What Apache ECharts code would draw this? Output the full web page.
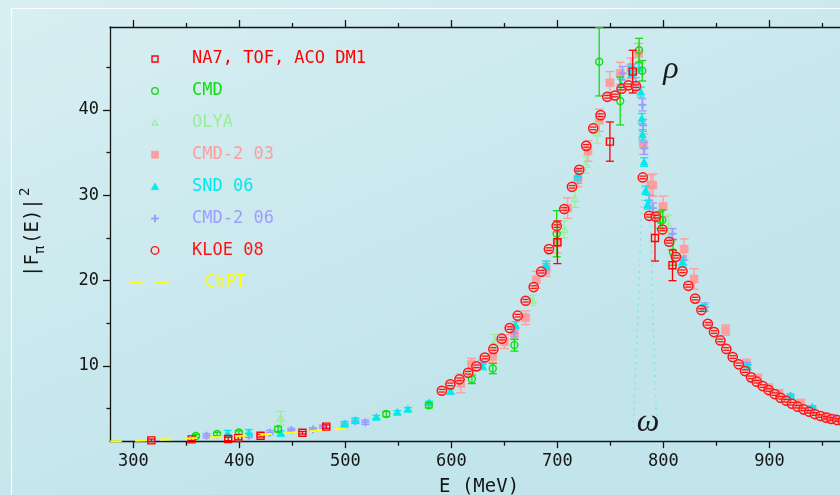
<!DOCTYPE html>
<html>
<head>
<meta charset="utf-8">
<script src="https://cdn.jsdelivr.net/npm/echarts@6/dist/echarts.min.js"></script>
<style>
  html, body { margin: 0; padding: 0; background: #cfeaef; }
  #chart { width: 840px; height: 495px; }
</style>
</head>
<body>
<div id="chart"></div>
<script>
// Pion form factor |F_pi(E)|^2 versus energy E (MeV).
// Each experiment: [E (MeV), |F|^2, error]
const na7 = [
  [317, 1.29, 0.15], [355, 1.40, 0.15], [389.5, 1.45, 0.2], [399, 1.55, 0.2],
  [420, 1.83, 0.15], [459.5, 2.18, 0.15], [482, 2.90, 0.2], [700, 24.5, 2.5],
  [749.5, 36.3, 2.3], [771, 44.5, 2.5], [792, 25.0, 2.7], [808.5, 21.8, 1.8]
];
const cmd = [
  [359, 1.80, 0.2], [379, 2.03, 0.2], [399.5, 2.20, 0.2], [436.5, 2.60, 0.3],
  [538.6, 4.37, 0.3], [578.7, 5.40, 0.3], [619.3, 8.44, 0.5], [639, 9.7, 0.6],
  [659.4, 12.45, 0.7], [699.3, 25.5, 2.7], [739.4, 45.65, 4.0], [759.2, 41.05, 2.8],
  [777, 47.0, 1.4], [780, 44.6, 1.2], [797, 27.1, 1.0], [799, 27.1, 1.2], [809, 23.3, 1.5]
];
const olya = [
  [439, 3.87, 0.8], [641, 12.9, 0.8], [676.6, 17.7, 0.6], [706.5, 26.0, 1.0],
  [716.5, 29.6, 1.0], [726.9, 33.6, 1.0], [737.3, 37.3, 1.2], [805, 26.5, 1.2]
];
const cmd2_03 = [
  [609, 7.97, 1.1], [619, 10.2, 0.7], [639, 11.1, 0.7], [650, 12.85, 0.8],
  [659.5, 13.9, 0.8], [670, 15.66, 0.8], [680, 20.1, 1.0], [689.5, 21.4, 0.9],
  [699.6, 24.45, 1.2], [709.6, 28.5, 1.2], [719.5, 32.0, 1.0], [728.8, 35.2, 1.2],
  [739.5, 38.8, 1.3], [749.5, 43.2, 1.3], [759.2, 44.3, 1.3], [769.3, 44.9, 1.2],
  [776.5, 46.6, 1.2], [781, 36.0, 1.2], [788, 31.2, 1.2], [790, 31.2, 1.3],
  [799.7, 28.7, 1.2], [819.5, 23.7, 1.2], [828.9, 20.2, 1.2], [858.7, 14.2, 0.6],
  [878.2, 10.2, 0.6], [889, 8.6, 0.4], [899.5, 7.4, 0.5], [909, 6.8, 0.4],
  [929.4, 5.6, 0.5], [940, 4.9, 0.4], [953, 4.05, 0.4], [960, 3.9, 0.4]
];
const snd06 = [
  [389, 2.10, 0.35], [409, 2.20, 0.35], [439, 2.10, 0.3], [499.3, 3.20, 0.3],
  [509.4, 3.60, 0.3], [529.2, 4.00, 0.2], [549, 4.57, 0.2], [559, 4.92, 0.2],
  [579, 5.70, 0.2], [599.2, 7.00, 0.25], [629.6, 9.90, 0.3], [660.4, 14.8, 0.4],
  [689.2, 21.8, 0.5], [719, 32.4, 0.6], [760, 43.0, 0.6], [770, 44.5, 0.6],
  [777, 44.9, 0.6], [778.7, 42.1, 0.6], [779.6, 39.0, 0.6], [780.2, 37.1, 0.6],
  [781.8, 33.9, 0.5], [783.3, 30.6, 0.5], [784.9, 28.9, 0.5], [818, 22.2, 0.5],
  [838.3, 16.8, 0.4], [879.1, 9.9, 0.3], [919.9, 6.4, 0.2], [940.3, 5.04, 0.2],
  [970, 3.6, 0.2]
];
const cmd2_06 = [
  [369, 1.83, 0.25], [409, 1.85, 0.25], [428.7, 2.20, 0.25], [449, 2.50, 0.2],
  [469.5, 2.58, 0.2], [479, 2.90, 0.2], [499.3, 3.20, 0.25], [509.4, 3.55, 0.25],
  [518.8, 3.40, 0.25], [628.6, 10.3, 0.4], [659.4, 13.9, 0.5], [689.2, 21.4, 0.6],
  [719.4, 32.1, 0.7], [761.4, 44.3, 0.8], [770, 44.6, 0.8], [774, 43.1, 0.7],
  [780.2, 40.6, 0.7], [780.8, 38.2, 0.7], [782, 35.5, 0.7], [786.5, 29.4, 0.6],
  [790, 28.5, 0.6], [808.5, 25.5, 0.6], [818.6, 22.4, 0.5], [839, 16.9, 0.5],
  [879.1, 10.1, 0.3], [919.9, 6.5, 0.25], [940.3, 5.15, 0.2], [962, 3.9, 0.2]
];
const kloe08 = [
  [591, 7.10], [599, 7.85], [607.6, 8.44], [615.8, 9.21], [623.6, 9.96], [631.5, 11.0],
  [639.6, 12.0], [647.5, 13.2], [655, 14.45], [662.5, 15.9], [670, 17.65], [677.6, 19.25],
  [684.8, 21.05], [692, 23.7], [699.3, 26.4], [706.5, 28.4], [713.7, 31.0], [720.6, 33.0],
  [727.2, 35.8], [733.8, 37.85], [740.7, 39.4], [747, 41.55], [754.2, 41.7], [760.5, 42.5],
  [767, 42.9], [774, 42.8], [780.5, 32.1], [786.5, 27.6], [792.8, 27.5], [799, 26.0],
  [805.4, 24.56], [811.7, 22.8], [817.9, 21.1], [823.5, 19.4], [829.9, 17.9], [835.8, 16.56],
  [841.8, 14.95], [847.7, 13.98], [853.7, 13.0], [859.3, 12.0], [865.3, 11.05], [871, 10.2],
  [876.9, 9.41], [882.6, 8.67], [887.9, 8.16], [893.6, 7.65], [899.2, 7.18], [904.9, 6.71],
  [910.5, 6.28], [915.8, 5.93], [921.2, 5.58], [926.5, 5.23], [932.2, 4.92], [937.5, 4.64],
  [942.8, 4.37], [948.2, 4.14], [953.5, 3.94], [958.5, 3.79], [963.8, 3.67], [969, 3.55]
];
const kloeErr = 0.15;
// Chiral perturbation theory curve at low energy
const chpt = [
  [278, 1.15], [300, 1.22], [325, 1.35], [350, 1.50], [375, 1.65],
  [400, 1.80], [425, 2.00], [450, 2.20], [475, 2.45], [500, 2.65]
];
// faint dotted lines around the omega dip
const omegaLeft = [[780, 31], [776, 16], [771, 2]];
const omegaRight = [[787, 31], [790, 16], [794, 2]];

const xMajor = [300, 400, 500, 600, 700, 800, 900];
const xMinor = [350, 450, 550, 650, 750, 850, 950];
const yMajor = [10, 20, 30, 40];
const yMinor = [5, 15, 25, 35, 45];

// the frame continues past the right edge of the canvas; the visible part ends near 966 MeV
const X_MIN = 278, X_MAX = 966.5, Y_MIN = 1.13, Y_MAX = 49.73;
const MONO = "'DejaVu Sans Mono', 'Liberation Mono', monospace";

const colors = {
  na7: '#ff0000', cmd: '#11dd11', olya: '#99ee99', cmd203: '#ff9c9c',
  snd: '#00eaea', cmd206: '#9c9cff', kloe: '#ff1414', chpt: '#ffff00'
};

const CLEAR = 'rgba(0,0,0,0)';
function marker(kind, cx, cy, s, color) {
  switch (kind) {
    case 'openSquare':
      return { type: 'rect', shape: { x: cx - s, y: cy - s, width: 2 * s, height: 2 * s },
        style: { fill: CLEAR, stroke: color, lineWidth: 1.4 } };
    case 'fillSquare':
      return { type: 'rect', shape: { x: cx - s, y: cy - s, width: 2 * s, height: 2 * s },
        style: { fill: color, stroke: color, lineWidth: 0.5 } };
    case 'openCircle':
      return { type: 'circle', shape: { cx: cx, cy: cy, r: s },
        style: { fill: CLEAR, stroke: color, lineWidth: 1.4 } };
    case 'openTriangle':
      return { type: 'polygon', shape: { points: [[cx, cy - s], [cx + s, cy + s * 0.8], [cx - s, cy + s * 0.8]] },
        style: { fill: CLEAR, stroke: color, lineWidth: 1.2 } };
    case 'fillTriangle':
      return { type: 'polygon', shape: { points: [[cx, cy - s], [cx + s, cy + s * 0.8], [cx - s, cy + s * 0.8]] },
        style: { fill: color, stroke: color, lineWidth: 0.5 } };
    case 'plus':
      return { type: 'group', children: [
        { type: 'line', shape: { x1: cx - s, y1: cy, x2: cx + s, y2: cy }, style: { stroke: color, lineWidth: 2 } },
        { type: 'line', shape: { x1: cx, y1: cy - s, x2: cx, y2: cy + s }, style: { stroke: color, lineWidth: 2 } }
      ] };
  }
}

// error bar with caps plus the experiment's marker
function errorBarRenderer(kind, color, size, cap, lw) {
  return function (params, api) {
    const e = api.value(0), f = api.value(1), err = api.value(2);
    const c = api.coord([e, f]);
    const top = api.coord([e, f + err])[1];
    const bot = api.coord([e, f - err])[1];
    const ls = { stroke: color, lineWidth: lw };
    return {
      type: 'group',
      children: [
        { type: 'line', shape: { x1: c[0], y1: top, x2: c[0], y2: bot }, style: ls },
        { type: 'line', shape: { x1: c[0] - cap, y1: top, x2: c[0] + cap, y2: top }, style: ls },
        { type: 'line', shape: { x1: c[0] - cap, y1: bot, x2: c[0] + cap, y2: bot }, style: ls },
        marker(kind, c[0], c[1], size, color)
      ]
    };
  };
}

// KLOE points: open circle with the short error bar drawn inside it
function kloeRenderer(params, api) {
  const e = api.value(0), f = api.value(1);
  const c = api.coord([e, f]);
  let d = Math.abs(api.coord([e, f + kloeErr])[1] - c[1]);
  d = Math.max(d, 1.3);
  const ls = { stroke: colors.kloe, lineWidth: 1.3 };
  return {
    type: 'group',
    children: [
      { type: 'circle', shape: { cx: c[0], cy: c[1], r: 4.6 },
        style: { fill: 'rgba(255,200,200,0.35)', stroke: colors.kloe, lineWidth: 1.5 } },
      { type: 'line', shape: { x1: c[0] - 3.2, y1: c[1] - d, x2: c[0] + 3.2, y2: c[1] - d }, style: ls },
      { type: 'line', shape: { x1: c[0] - 3.2, y1: c[1] + d, x2: c[0] + 3.2, y2: c[1] + d }, style: ls }
    ]
  };
}

function errSeries(name, data, kind, color, size, cap, lw) {
  return { name: name, type: 'custom', data: data, clip: false,
    renderItem: errorBarRenderer(kind, color, size, cap, lw) };
}

const axisColor = '#151515';
function xAxisDef(position, ticks, len, showLine, showLabels) {
  return {
    type: 'value', position: position, min: X_MIN, max: X_MAX,
    axisLine: { show: showLine, onZero: false, lineStyle: { color: axisColor, width: 1.3 } },
    axisTick: { show: true, inside: false, length: len, customValues: ticks,
      lineStyle: { color: axisColor, width: 1.3 } },
    axisLabel: showLabels ? { show: true, customValues: ticks, margin: 11,
      fontFamily: MONO, fontSize: 17, color: axisColor } : { show: false },
    splitLine: { show: false }
  };
}
function yAxisDef(ticks, len, showLine, showLabels) {
  return {
    type: 'value', position: 'left', min: Y_MIN, max: Y_MAX,
    axisLine: { show: showLine, onZero: false, lineStyle: { color: axisColor, width: 1.3 } },
    axisTick: { show: true, inside: false, length: len, customValues: ticks,
      lineStyle: { color: axisColor, width: 1.3 } },
    axisLabel: showLabels ? { show: true, customValues: ticks, margin: 11,
      fontFamily: MONO, fontSize: 17, color: axisColor } : { show: false },
    splitLine: { show: false }
  };
}

// legend drawn as graphic elements
const legendRows = [
  { label: 'NA7, TOF, ACO DM1', kind: 'openSquare', color: colors.na7, s: 3 },
  { label: 'CMD', kind: 'openCircle', color: colors.cmd, s: 3.3 },
  { label: 'OLYA', kind: 'openTriangle', color: colors.olya, s: 3 },
  { label: 'CMD-2 03', kind: 'fillSquare', color: colors.cmd203, s: 3.6 },
  { label: 'SND 06', kind: 'fillTriangle', color: colors.snd, s: 3.8 },
  { label: 'CMD-2 06', kind: 'plus', color: colors.cmd206, s: 3.8 },
  { label: 'KLOE 08', kind: 'openCircle', color: colors.kloe, s: 3.8 }
];
const legendGraphics = [];
legendRows.forEach(function (r, i) {
  const y = 59 + i * 31.9;
  const m = marker(r.kind, 155, y, r.s, r.color);
  m.z = 10;
  legendGraphics.push(m);
  legendGraphics.push({ type: 'text', x: 192, y: y, z: 10,
    style: { text: r.label, fill: r.color, font: '17px ' + MONO, textVerticalAlign: 'middle' } });
});
legendGraphics.push(
  { type: 'line', z: 10, shape: { x1: 129, y1: 282.5, x2: 142.5, y2: 282.5 }, style: { stroke: colors.chpt, lineWidth: 1.8 } },
  { type: 'line', z: 10, shape: { x1: 155, y1: 282.5, x2: 168.5, y2: 282.5 }, style: { stroke: colors.chpt, lineWidth: 1.8 } },
  { type: 'text', x: 205, y: 282.5, z: 10,
    style: { text: 'ChPT', fill: colors.chpt, font: '17px ' + MONO, textVerticalAlign: 'middle' } }
);

const chart = echarts.init(document.getElementById('chart'), null, { renderer: 'canvas' });
chart.setOption({
  animation: false,
  backgroundColor: 'transparent',
  grid: { left: 110, top: 27, right: 0, bottom: 53.3, containLabel: false },
  xAxis: [
    xAxisDef('bottom', xMajor, 6.5, true, true),
    xAxisDef('bottom', xMinor, 4, false, false),
    xAxisDef('top', xMajor, 7, true, false),
    xAxisDef('top', xMinor, 4, false, false)
  ],
  yAxis: [
    yAxisDef(yMajor, 7, true, true),
    yAxisDef(yMinor, 3.5, false, false)
  ],
  graphic: [
    { type: 'rect', z: -100, silent: true, shape: { x: 0, y: 0, width: 840, height: 495 },
      style: { fill: new echarts.graphic.LinearGradient(0, 0, 0.25, 1, [
        { offset: 0, color: '#d8eff3' }, { offset: 1, color: '#c2e5eb' }]) } },
    { type: 'rect', z: -90, silent: true, shape: { x: 11.5, y: 8.5, width: 900, height: 600 },
      style: { fill: CLEAR, stroke: 'rgba(255,255,255,0.9)', lineWidth: 1.2 } },
    { type: 'text', x: 439, y: 487, z: 10,
      style: { text: 'E (MeV)', fill: axisColor, font: '19px ' + MONO, textVerticalAlign: 'middle' } },
    { type: 'group', x: 33, y: 229, rotation: Math.PI / 2, z: 10, children: [
      { type: 'text', x: -48, y: 0, style: { text: '|F', fill: axisColor, font: '19px ' + MONO, textVerticalAlign: 'middle' } },
      { type: 'text', x: -25, y: 7, style: { text: 'π', fill: axisColor, font: '14px ' + MONO, textVerticalAlign: 'middle' } },
      { type: 'text', x: -15, y: 0, style: { text: '(E)|', fill: axisColor, font: '19px ' + MONO, textVerticalAlign: 'middle' } },
      { type: 'text', x: 33, y: -8, style: { text: '2', fill: axisColor, font: '14px ' + MONO, textVerticalAlign: 'middle' } }
    ] },
    { type: 'text', x: 671, y: 70, z: 10,
      style: { text: 'ρ', fill: '#1a1a1a', font: 'italic 32px "Liberation Serif", "DejaVu Serif", serif',
        textAlign: 'center', textVerticalAlign: 'middle' } },
    { type: 'text', x: 648, y: 423, z: 10,
      style: { text: 'ω', fill: '#1a1a1a', font: 'italic 32px "Liberation Serif", "DejaVu Serif", serif',
        textAlign: 'center', textVerticalAlign: 'middle' } }
  ].concat(legendGraphics),
  series: [
    { name: 'omega-left', type: 'line', data: omegaLeft, symbol: 'none', silent: true,
      lineStyle: { color: colors.snd, width: 1.5, type: [1.5, 5], opacity: 0.45 } },
    { name: 'omega-right', type: 'line', data: omegaRight, symbol: 'none', silent: true,
      lineStyle: { color: colors.snd, width: 1.5, type: [1.5, 5], opacity: 0.45 } },
    { name: 'ChPT', type: 'line', data: chpt, symbol: 'none', smooth: true, silent: true, z: 3,
      lineStyle: { color: colors.chpt, width: 2, type: [12, 13] } },
    errSeries('CMD-2 03', cmd2_03, 'fillSquare', colors.cmd203, 4, 4.5, 1.3),
    errSeries('OLYA', olya, 'openTriangle', colors.olya, 3.6, 4, 1.2),
    errSeries('CMD-2 06', cmd2_06, 'plus', colors.cmd206, 4, 4, 1.3),
    errSeries('SND 06', snd06, 'fillTriangle', colors.snd, 4, 4, 1.3),
    errSeries('CMD', cmd, 'openCircle', colors.cmd, 3.5, 4, 1.3),
    errSeries('NA7, TOF, ACO DM1', na7, 'openSquare', colors.na7, 3.5, 4, 1.3),
    { name: 'KLOE 08', type: 'custom', data: kloe08, clip: false, z: 5, renderItem: kloeRenderer }
  ]
});
</script>
</body>
</html>
